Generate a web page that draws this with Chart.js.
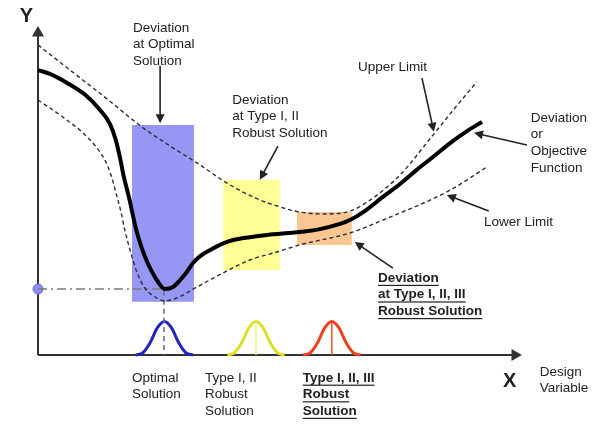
<!DOCTYPE html>
<html>
<head>
<meta charset="utf-8">
<script src="https://cdn.jsdelivr.net/npm/chart.js@4.4.1/dist/chart.umd.min.js"></script>
<style>html,body{margin:0;padding:0;background:#fff}</style>
</head>
<body>
<canvas id="c" width="602" height="427"></canvas>
<script>
// ── data (design variable 0..100 along X, response 0..100 along Y) ─────────
var CURVE_X = [0, 2.5, 6.1, 9.9, 13.0, 15.1, 16.3, 17.2, 18.0, 19.1, 20.5, 21.6, 22.8, 23.9, 24.9, 26.6, 28.3, 29.8, 31.2, 32.5, 34.0, 36.1, 38.6, 40.9, 44.4, 48.0, 54.9, 59.1, 63.3, 65.4, 68.5, 72.3, 75.9, 79.4, 82.8, 86.4, 89.7, 93.1];
var CURVE_Y = [88.5, 87.3, 84.5, 80.8, 76.1, 71.7, 66.8, 61.2, 55.3, 48.8, 39.4, 33.9, 29.2, 25.8, 23.3, 20.5, 21.1, 23.3, 25.8, 28.6, 30.7, 32.6, 34.5, 35.7, 36.6, 37.3, 38.2, 39.1, 40.7, 41.9, 44.7, 49.1, 53.1, 57.5, 61.5, 65.8, 69.3, 72.4];

var UPPER_X = [0, 6.7, 14.0, 21.8, 27.7, 34.0, 39.6, 45.5, 50.7, 54.9, 60.1, 65.4, 69.6, 75.9, 82.8, 87.4, 92.0];
var UPPER_Y = [96.3, 88.5, 80.1, 70.8, 64.9, 59.0, 53.4, 48.8, 46.0, 44.4, 43.8, 44.7, 48.1, 55.9, 68.3, 76.7, 84.8];

var LOWER_X = [0, 5.2, 10.3, 14.0, 15.3, 16.3, 17.4, 18.2, 19.3, 20.8, 22.4, 24.9, 26.6, 29.1, 33.3, 38.8, 44.4, 50.1, 54.9, 65.4, 72.3, 86.4, 94.1];
var LOWER_Y = [79.2, 73.9, 67.7, 60.6, 55.9, 50.6, 44.4, 38.8, 32.6, 25.5, 20.8, 17.7, 16.8, 17.7, 21.1, 25.5, 29.5, 32.0, 34.2, 37.9, 41.9, 51.2, 58.4];

// deviation boxes: optimal, type I-II, type I-II-III
var BOX_LEFT   = [19.7, 38.8, 54.3];
var BOX_RIGHT  = [32.7, 50.7, 65.8];
var BOX_TOP    = [71.4, 54.4, 44.4];
var BOX_BOTTOM = [16.5, 26.4, 34.2];

// distribution bells on the X axis
var BELL_CENTER = [26.5, 45.7, 61.6];
var BELL_DX = [-6, -4.5, -3, -1.5, 0, 1.5, 3, 4.5, 6];
var BELL_DY = [0, 0.7, 3.8, 8.4, 10.4, 8.4, 3.8, 0.7, 0];

var OPT_X = 26.6, OPT_Y = 20.5;

// ── helpers ──────────────────────────────────────────────────────────────
function pts(xs, ys) { return xs.map(function(x, i) { return { x: x, y: ys[i] }; }); }
function line(data, color, width, extra) {
  return Object.assign({ data: data, borderColor: color, borderWidth: width, pointRadius: 0, fill: false,
    cubicInterpolationMode: 'monotone', clip: false, order: 0 }, extra || {});
}

var BOX_COLORS  = ['rgb(150,150,245)', 'rgb(255,255,150)', 'rgb(250,198,145)'];
var BELL_COLORS = ['rgb(35,35,190)', 'rgb(222,222,45)', 'rgb(240,65,30)'];
var BELL_STEMS  = ['rgba(40,40,60,0.8)', 'rgb(240,240,120)', 'rgb(240,80,40)'];

var datasets = [];
datasets.push(line(pts(CURVE_X, CURVE_Y), '#000', 4));
datasets.push(line(pts(UPPER_X, UPPER_Y), '#2c2c3c', 1.4, { borderDash: [4, 3] }));
datasets.push(line(pts(LOWER_X, LOWER_Y), '#2c2c3c', 1.4, { borderDash: [4, 3] }));

// optimum markers
datasets.push(line([{ x: 0, y: OPT_Y }, { x: OPT_X, y: OPT_Y }], '#7a7a7a', 1.5, { borderDash: [9, 4, 2, 4] }));
datasets.push(line([{ x: OPT_X - 0.2, y: OPT_Y - 0.6 }, { x: OPT_X - 0.2, y: 0 }], '#6a6a6a', 1.5, { borderDash: [5, 4] }));
datasets.push(line([{ x: 0, y: OPT_Y }], 'rgb(100,100,220)', 1, { pointRadius: 5, pointBackgroundColor: 'rgb(140,140,240)', pointBorderColor: 'rgb(110,110,220)' }));

// bells
BELL_CENTER.forEach(function(c, k) {
  var xs = BELL_DX.map(function(d) { return c + d; });
  datasets.push(line(pts(xs, BELL_DY), BELL_COLORS[k], 3));
  if (k > 0) datasets.push(line([{ x: c, y: BELL_DY[4] }, { x: c, y: 0 }], BELL_STEMS[k], 1.5));
});

// axes
datasets.push(line([{ x: 0, y: 0 }, { x: 0, y: 100 }], '#333', 2, { pointRadius: [0, 5], pointStyle: 'triangle', pointBackgroundColor: '#333', pointBorderColor: '#333' }));
datasets.push(line([{ x: 0, y: 0 }, { x: 100, y: 0 }], '#333', 2, { pointRadius: [0, 5], pointStyle: 'triangle', pointRotation: 90, pointBackgroundColor: '#333', pointBorderColor: '#333' }));

// boxes (drawn underneath)
BOX_LEFT.forEach(function(l, k) {
  datasets.push(line([{ x: l, y: BOX_TOP[k] }, { x: BOX_RIGHT[k], y: BOX_TOP[k] }], 'rgba(0,0,0,0)', 0,
    { fill: { value: BOX_BOTTOM[k] }, backgroundColor: BOX_COLORS[k], order: 5 }));
});

// ── annotations ──────────────────────────────────────────────────────────
var LABELS = [
  { x: -3.8, y: 105.0, lines: ['Y'], bold: true, size: 20 },
  { x: 19.9, y: 101.6, lines: ['Deviation', 'at Optimal', 'Solution'] },
  { x: 40.7, y: 79.2, lines: ['Deviation', 'at Type I, II', 'Robust Solution'] },
  { x: 67.1, y: 89.5, lines: ['Upper Limit'] },
  { x: 103.3, y: 73.6, lines: ['Deviation', 'or', 'Objective', 'Function'] },
  { x: 93.5, y: 41.3, lines: ['Lower Limit'] },
  { x: 71.3, y: 23.9, lines: ['Deviation', 'at Type I, II, III', 'Robust Solution'], bold: true, underline: true },
  { x: 19.7, y: -7.1, lines: ['Optimal', 'Solution'] },
  { x: 35.0, y: -7.1, lines: ['Type I, II', 'Robust', 'Solution'] },
  { x: 55.5, y: -7.1, lines: ['Type I, II, III', 'Robust', 'Solution'], bold: true, underline: true },
  { x: 97.5, y: -8.1, lines: ['X'], bold: true, size: 20 },
  { x: 105.2, y: -5.3, lines: ['Design', 'Variable'] }
];
var ARROWS = [
  [25.6, 89.8, 25.6, 72.0],
  [50.3, 64.9, 46.5, 54.4],
  [80.5, 86.0, 83.0, 69.3],
  [102.5, 65.2, 91.4, 69.0],
  [94.5, 44.7, 85.7, 49.7],
  [74.4, 27.0, 66.4, 35.1]
];

var notes = {
  id: 'notes',
  afterDraw: function(chart) {
    var ctx = chart.ctx, sx = chart.scales.x, sy = chart.scales.y;
    ctx.save();
    ctx.strokeStyle = '#222'; ctx.fillStyle = '#222'; ctx.lineWidth = 1.6;
    ARROWS.forEach(function(a) {
      var x1 = sx.getPixelForValue(a[0]), y1 = sy.getPixelForValue(a[1]);
      var x2 = sx.getPixelForValue(a[2]), y2 = sy.getPixelForValue(a[3]);
      var ang = Math.atan2(y2 - y1, x2 - x1), hl = 9, hw = 4.5;
      ctx.beginPath(); ctx.moveTo(x1, y1);
      ctx.lineTo(x2 - Math.cos(ang) * hl * 0.8, y2 - Math.sin(ang) * hl * 0.8); ctx.stroke();
      ctx.beginPath(); ctx.moveTo(x2, y2);
      ctx.lineTo(x2 - Math.cos(ang) * hl + Math.sin(ang) * hw, y2 - Math.sin(ang) * hl - Math.cos(ang) * hw);
      ctx.lineTo(x2 - Math.cos(ang) * hl - Math.sin(ang) * hw, y2 - Math.sin(ang) * hl + Math.cos(ang) * hw);
      ctx.closePath(); ctx.fill();
    });
    ctx.fillStyle = '#222'; ctx.textBaseline = 'middle'; ctx.textAlign = 'left';
    LABELS.forEach(function(l) {
      var size = l.size || 13.5, lh = 16.6;
      ctx.font = (l.bold ? 'bold ' : '') + size + 'px "Liberation Sans", Arial, sans-serif';
      var px = sx.getPixelForValue(l.x), py = sy.getPixelForValue(l.y);
      l.lines.forEach(function(t, i) {
        var yy = py + i * lh;
        ctx.fillText(t, px, yy);
        if (l.underline) {
          ctx.fillRect(px, yy + size * 0.5, ctx.measureText(t).width, 1.2);
        }
      });
    });
    ctx.restore();
  }
};

new Chart(document.getElementById('c'), {
  type: 'line',
  data: { datasets: datasets },
  options: {
    responsive: false,
    animation: false,
    layout: { padding: { left: 38, top: 33, right: 87, bottom: 72 } },
    plugins: { legend: { display: false }, tooltip: { enabled: false } },
    scales: {
      x: { type: 'linear', min: 0, max: 100, display: false },
      y: { type: 'linear', min: 0, max: 100, display: false }
    }
  },
  plugins: [notes]
});
</script>
</body>
</html>
